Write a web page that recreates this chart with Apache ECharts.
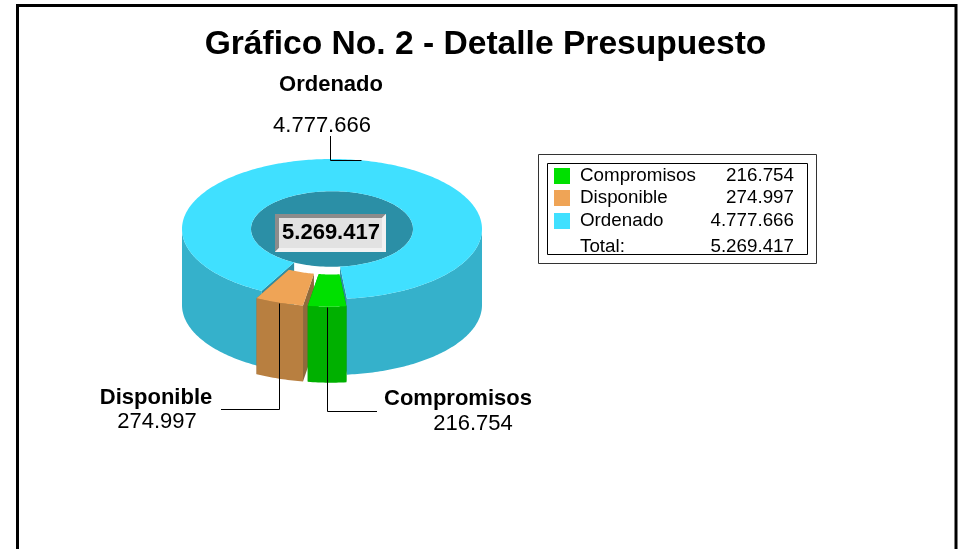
<!DOCTYPE html>
<html>
<head>
<meta charset="utf-8">
<style>html,body{margin:0;padding:0;background:#fff}#chart{width:963px;height:549px}</style>
<script src="https://cdn.jsdelivr.net/npm/echarts@6/dist/echarts.min.js"></script>
</head>
<body>
<div id="chart"></div>
<script>
// Datos del grafico
const categories = ['Compromisos', 'Disponible', 'Ordenado'];
const values = [216754, 274997, 4777666];
const total = 5269417;

// Colores: cara superior, lateral, pared del corte
const topColors = ['#00E000', '#EFA456', '#40E0FF'];
const sideColors = ['#00B000', '#B87F40', '#35B1CB'];
const wallColors = ['#009000', '#8F6A3C', '#2B8FA6'];
const holeColor = '#2B8FA6';

const FONT = '"Liberation Sans", Arial, sans-serif';
const SQUASH = 0.4667, DEPTH = 76, HOLE = 0.54, EXPLODE = 0.11;

// Final de cada linea guia, y por donde sale (h = primero horizontal)
const leaders = [
    { x: 377, y: 411, first: 'v' },
    { x: 221, y: 409, first: 'v' },
    { x: 330, y: 136, first: 'h' }
];

const fmt = v => String(v).replace(/\B(?=(\d{3})+$)/g, '.');

// Cada porcion va de start a end, sentido horario desde el corte
let acc = 0;
const slices = categories.map((name, i) => {
    const item = { name: name, value: [acc, acc + values[i], i] };
    acc += values[i];
    return item;
}).reverse(); // se pinta del fondo hacia adelante

function renderSlice(params, api) {
    const start = api.value(0), end = api.value(1), idx = api.value(2);
    const center = api.coord([0, 0]);
    const cx = center[0], cy = center[1];
    const exploded = idx < 2;

    // radio y valor pasan por los ejes polares, luego se aplasta en y
    const mid = (start + end) / 2;
    const midPt = api.coord([1, mid]);
    const dx = exploded ? (midPt[0] - cx) * EXPLODE : 0;
    const dy = exploded ? (midPt[1] - cy) * SQUASH * EXPLODE : 0;
    const pt = (r, v) => {
        const p = api.coord([r, v]);
        return [p[0] + dx, cy + (p[1] - cy) * SQUASH + dy];
    };
    const down = p => [p[0], p[1] + DEPTH];

    const steps = Math.max(8, Math.round((end - start) / total * 360));
    const vals = [];
    for (let s = 0; s <= steps; s++) vals.push(start + (end - start) * s / steps);

    const children = [];
    const poly = (points, fill) => children.push({
        type: 'polygon', shape: { points: points }, style: { fill: fill }, silent: true
    });

    if (idx === 2) {
        const ring = [];
        for (let a = 0; a < 360; a += 2) {
            ring.push(pt(HOLE, total * a / 360));
        }
        poly(ring, holeColor);
    }

    // paredes del corte
    [start, end].forEach(v => {
        const o = pt(1, v), n = pt(HOLE, v);
        poly([n, o, down(o), down(n)], wallColors[idx]);
    });

    // lateral exterior, solo la mitad delantera
    let run = [];
    const flush = () => {
        if (run.length > 1) poly(run.concat(run.slice().reverse().map(down)), sideColors[idx]);
        run = [];
    };
    vals.forEach(v => {
        const p = pt(1, v);
        if (p[1] >= cy + dy) run.push(p); else flush();
    });
    flush();

    // cara superior
    poly(vals.map(v => pt(1, v)).concat(vals.slice().reverse().map(v => pt(HOLE, v))), topColors[idx]);

    // linea guia
    const m = pt(1, mid), l = leaders[idx];
    const mx = Math.round(m[0]) + 0.5, my = Math.round(m[1]) + 0.5;
    const elbow = l.first === 'h' ? [l.x + 0.5, my] : [mx, l.y + 0.5];
    children.push({
        type: 'polyline',
        shape: { points: [[mx, my], elbow, [l.first === 'h' ? l.x + 0.5 : l.x, l.first === 'h' ? l.y : l.y + 0.5]] },
        style: { stroke: '#000', lineWidth: 1, fill: null },
        silent: true
    });
    return { type: 'group', children: children };
}

// Textos alrededor del grafico
const txt = (x, y, text, size, bold, align) => ({
    type: 'text', x: x, y: y + 1, silent: true, z: 20,
    style: {
        text: text, fill: '#000', font: (bold ? 'bold ' : '') + size + 'px ' + FONT,
        textAlign: align || 'center', textVerticalAlign: 'middle'
    }
});
const rect = (x, y, w, h, fill, stroke, lw) => ({
    type: 'rect', shape: { x: x, y: y, width: w, height: h }, silent: true, z: 10,
    style: { fill: fill, stroke: stroke || null, lineWidth: lw || 0 }
});
const bevel = (points, fill) => ({
    type: 'polygon', shape: { points: points }, style: { fill: fill }, silent: true, z: 11
});

const graphics = [
    // marco exterior, sin borde inferior visible
    rect(17.5, 5.5, 938.5, 560, 'transparent', '#000', 3),
    // etiquetas
    txt(331, 84, categories[2], 22, true),
    txt(322, 125, fmt(values[2]), 22),
    txt(156, 397, categories[1], 22, true),
    txt(157, 421, fmt(values[1]), 22),
    txt(458, 398, categories[0], 22, true),
    txt(473, 423, fmt(values[0]), 22),
    // caja central
    rect(275, 214, 111, 38, '#E2E2E2'),
    bevel([[275, 214], [386, 214], [382, 218], [279, 218], [279, 248], [275, 252]], '#8C8C8C'),
    bevel([[386, 214], [386, 252], [275, 252], [279, 248], [382, 248], [382, 218]], '#F2F2F2'),
    txt(331, 232, fmt(total), 22, true),
    // leyenda
    rect(538.5, 154.5, 278, 109, 'transparent', '#333', 1),
    rect(547.5, 163.5, 260, 91, 'transparent', '#000', 1),
    txt(580, 246, 'Total:', 18.8, false, 'left'),
    txt(794, 246, fmt(total), 18.8, false, 'right')
];
const legendY = [175, 197, 220];
categories.forEach((name, i) => {
    graphics.push(rect(554, legendY[i] - 7, 16, 16, topColors[i]));
    graphics.push(txt(580, legendY[i], name, 18.8, false, 'left'));
    graphics.push(txt(794, legendY[i], fmt(values[i]), 18.8, false, 'right'));
});

const chart = echarts.init(document.getElementById('chart'), null, { renderer: 'canvas' });
chart.setOption({
    animation: false,
    backgroundColor: '#fff',
    title: {
        text: 'Gráfico No. 2 - Detalle Presupuesto',
        left: 480.5, top: 23, textAlign: 'center',
        textStyle: { fontFamily: FONT, fontSize: 33.6, fontWeight: 'bold', color: '#000' }
    },
    polar: { center: [332, 229], radius: 150 },
    radiusAxis: { show: false, min: 0, max: 1 },
    angleAxis: { show: false, min: 0, max: total, startAngle: 275.7 },
    series: [{
        type: 'custom',
        coordinateSystem: 'polar',
        renderItem: renderSlice,
        encode: { radius: 2, angle: 0 },
        data: slices
    }],
    graphic: graphics
});
</script>
</body>
</html>
